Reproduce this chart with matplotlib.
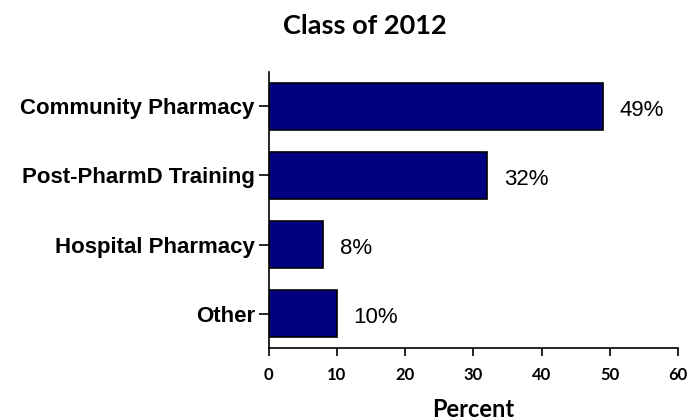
import matplotlib as mpl
import matplotlib.pyplot as plt
import numpy as np

categories = ['Community Pharmacy', 'Post-PharmD Training', 'Hospital Pharmacy', 'Other']
percents = [49, 32, 8, 10]
x_ticks = [0, 10, 20, 30, 40, 50, 60]

mpl.rcParams['font.family'] = ['Liberation Sans', 'DejaVu Sans']

fig = plt.figure(figsize=(6.89, 4.2), dpi=100)
ax = fig.add_axes([0.390, 0.171, 0.594, 0.658])

ypos = np.arange(len(categories))[::-1]
ax.barh(ypos, percents, height=0.67, color='#000080', edgecolor='black', lw=1.2)

for y, v in zip(ypos, percents):
    ax.annotate('%d%%' % v, xy=(v, y), xytext=(12, -3), textcoords='offset points',
                va='center', ha='left', fontsize=16)

ax.set_xlim(0, 60)
ax.set_ylim(-0.5, 3.5)
ax.set_xticks(x_ticks)
ax.set_xticklabels([str(t) for t in x_ticks], family='Lato', fontweight='bold', fontsize=12)
ax.set_yticks(ypos)
ax.set_yticklabels(categories, fontweight='bold', fontsize=16)

ax.spines['top'].set_visible(False)
ax.spines['right'].set_visible(False)
ax.spines['left'].set_linewidth(1.2)
ax.spines['bottom'].set_linewidth(1.2)
ax.tick_params(axis='x', direction='out', length=5.5, width=1.2, pad=8)
ax.tick_params(axis='y', direction='out', length=7, width=1.2, pad=3)

ax.set_xlabel('Percent', family='Lato', fontweight='bold', fontsize=17, va='center')
ax.xaxis.set_label_coords(0.5, -0.221)
fig.text(0.529, 0.938, 'Class of 2012', family='Lato', fontweight='bold',
         fontsize=19.5, ha='center', va='center')

fig.savefig('out.png', dpi=100)
